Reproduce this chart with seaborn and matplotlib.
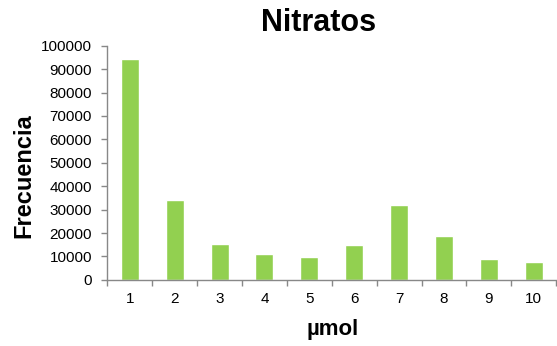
import matplotlib
matplotlib.use("Agg")
import matplotlib.pyplot as plt
import seaborn as sns
import pandas as pd
import numpy as np

categories = ["1", "2", "3", "4", "5", "6", "7", "8", "9", "10"]
frecuencia = [94500, 34000, 15400, 10900, 9800, 14700, 32100, 18600, 9000, 7800]

sns.set_theme(style="white")
plt.rcParams['font.family'] = ['Liberation Sans', 'DejaVu Sans']
plt.rcParams['text.color'] = 'black'
plt.rcParams['axes.labelcolor'] = 'black'
plt.rcParams['xtick.color'] = 'black'
plt.rcParams['ytick.color'] = 'black'

df = pd.DataFrame({"umol": categories, "Frecuencia": frecuencia})

fig = plt.figure(figsize=(5.57, 3.46), dpi=100)
ax = fig.add_axes([0.1927, 0.191, 0.806, 0.677])
sns.barplot(data=df, x="umol", y="Frecuencia", color="#92D050", saturation=1,
            width=0.4, ax=ax, order=categories)

ax.set_ylim(0, 100000)
ax.set_yticks(np.arange(0, 100001, 10000))
ax.set_xlim(-0.5, len(categories) - 0.5)
ax.set_xticks(np.arange(-0.5, len(categories), 1.0), minor=True)
ax.tick_params(axis="x", which="major", length=0, pad=9, labelsize=11, labelcolor="black")
ax.tick_params(axis="x", which="minor", length=4, width=1, color="#888888", direction="out", bottom=True)
ax.tick_params(axis="y", length=4, width=1, color="#888888", direction="out", left=True,
               labelsize=11, labelcolor="black", pad=7)

for s in ["top", "right"]:
    ax.spines[s].set_visible(False)
for s in ["left", "bottom"]:
    ax.spines[s].set_color("#888888")
    ax.spines[s].set_linewidth(1)

ax.set_xlabel("")
ax.set_ylabel("")
fig.text(333 / 557, 1 - 330 / 346, "µmol", fontsize=16, fontweight="bold",
         ha="center", va="center")
fig.text(24 / 557, 1 - 176 / 346, "Frecuencia", fontsize=17, fontweight="bold",
         ha="center", va="center", rotation=90)
fig.text(319 / 557, 1 - 23 / 346, "Nitratos", fontsize=22, fontweight="bold",
         ha="center", va="center")

fig.savefig("out.png", dpi=100)
